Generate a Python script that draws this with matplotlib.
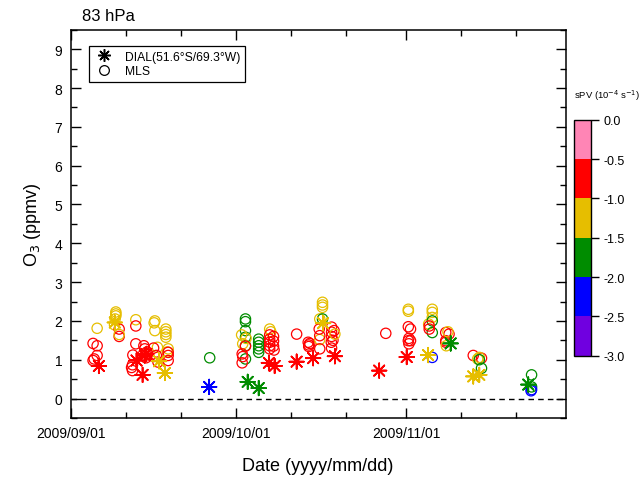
import numpy as np
import matplotlib
matplotlib.use('Agg')
import matplotlib.pyplot as plt
import matplotlib.dates as mdates
from matplotlib.colors import ListedColormap, BoundaryNorm
from matplotlib.cm import ScalarMappable
from matplotlib.lines import Line2D

plt.rcParams['font.family'] = ['Liberation Sans', 'DejaVu Sans']

start = np.datetime64('2009-09-01T00:00')
# days since 2009/09/01, O3 (ppmv), sPV (1e-4 s-1)
dial_days = [5.15, 8.05, 12.0, 13.1, 13.5, 13.8, 16.1, 17.15, 25.2, 32.2, 34.2,
             36.05, 37.1, 41.1, 44.1, 45.9, 48.05, 56.1, 61.1, 65.0, 69.1,
             73.2, 74.3, 83.2]
dial_o3 = [0.84, 1.96, 0.98, 0.61, 1.11, 1.15, 0.96, 0.66, 0.30, 0.43, 0.27,
           0.92, 0.84, 0.95, 1.04, 1.94, 1.09, 0.72, 1.07, 1.12, 1.42,
           0.57, 0.61, 0.36]
dial_spv = [-0.75, -1.25, -0.75, -0.75, -0.75, -0.75, -1.25, -1.25, -2.25, -1.75, -1.75,
            -0.75, -0.75, -0.75, -0.75, -1.25, -0.75, -0.75, -0.75, -1.25, -1.75,
            -1.25, -1.25, -1.75]

mls_days = [4.1, 4.84, 4.3, 4.1, 4.84, 4.84,
            8.24, 8.24, 8.24, 8.1, 8.0, 8.84, 8.84, 8.84,
            11.87, 11.87, 11.87, 11.33, 11.27, 11.27, 11.1,
            13.33, 13.5, 13.1, 14.0, 13.7, 13.9,
            15.33, 15.2, 15.33, 15.8, 15.1, 15.6, 15.9,
            17.33, 17.33, 17.33, 17.33, 17.75, 17.6, 17.75, 17.75, 17.75,
            25.3,
            31.8, 31.8, 31.8, 31.8, 31.8, 31.8, 31.1, 31.9, 31.3, 31.8, 31.2, 31.2, 31.3,
            34.2, 34.2, 34.2, 34.2, 34.2,
            36.2, 36.4, 36.2, 36.2, 36.2, 36.2, 36.2, 36.9, 36.9, 36.9, 37.0,
            41.1,
            43.2, 43.3, 43.3, 43.5,
            45.8, 45.8, 45.8, 45.3, 45.3, 45.8, 45.2, 45.3, 45.3,
            47.45, 47.45, 47.45, 47.4, 47.45, 47.9, 47.7, 48.05,
            57.3,
            61.4, 61.4, 61.4, 61.8, 61.5, 61.8, 61.4, 61.5,
            65.75, 65.75, 65.75, 65.1, 65.75, 65.75, 65.2, 65.2, 65.75,
            68.2, 68.8, 68.2, 68.2, 68.6, 68.3,
            73.2, 74.7, 74.3, 74.0, 74.3, 74.7,
            83.8, 83.8, 83.8, 83.7]
mls_o3 = [1.42, 1.36, 1.02, 0.98, 1.11, 1.81,
          2.23, 2.18, 2.13, 2.05, 1.90, 1.79, 1.60, 1.65,
          2.03, 1.87, 1.41, 1.12, 0.87, 0.72, 0.80,
          1.36, 1.28, 1.11, 1.15, 1.05, 1.20,
          2.00, 1.95, 1.75, 1.32, 1.30, 1.11, 0.94,
          1.79, 1.72, 1.65, 1.58, 1.28, 1.20, 1.19, 1.11, 0.98,
          1.05,
          2.05, 1.98, 1.75, 1.58, 1.36, 1.02, 1.64, 1.55, 1.41, 1.35, 1.15, 0.92, 1.08,
          1.53, 1.45, 1.36, 1.28, 1.19,
          1.79, 1.72, 1.64, 1.53, 1.45, 1.36, 1.28, 1.60, 1.48, 1.35, 1.25,
          1.66,
          1.45, 1.38, 1.34, 1.42,
          2.48, 2.41, 2.35, 2.05, 1.52, 2.05, 1.79, 1.62, 1.28,
          1.84, 1.71, 1.60, 1.45, 1.30, 1.75, 1.50, 1.66,
          1.68,
          2.30, 2.25, 1.85, 1.79, 1.55, 1.49, 1.49, 1.41,
          2.30, 2.22, 2.09, 1.92, 2.00, 1.70, 1.87, 1.79, 1.06,
          1.70, 1.66, 1.49, 1.45, 1.72, 1.36,
          1.11, 1.04, 1.06, 1.02, 1.00, 0.78,
          0.61, 0.30, 0.23, 0.20]
mls_spv = [-0.75, -0.75, -0.75, -0.75, -0.75, -1.25,
           -1.25, -1.25, -1.25, -1.25, -1.25, -0.75, -0.75, -1.25,
           -1.25, -0.75, -0.75, -0.75, -0.75, -0.75, -0.75,
           -0.75, -0.75, -0.75, -0.75, -0.75, -0.75,
           -1.25, -1.25, -1.25, -1.25, -0.75, -0.75, -0.75,
           -1.25, -1.25, -1.25, -1.25, -1.25, -1.25, -0.75, -0.75, -0.75,
           -1.75,
           -1.75, -1.75, -1.75, -1.75, -1.75, -1.75, -1.25, -1.25, -1.25, -0.75, -0.75, -0.75, -0.75,
           -1.75, -1.75, -1.75, -1.75, -1.75,
           -1.25, -1.25, -0.75, -0.75, -0.75, -0.75, -0.75, -0.75, -0.75, -0.75, -0.75,
           -0.75,
           -0.75, -0.75, -0.75, -0.75,
           -1.25, -1.25, -1.25, -1.25, -1.25, -1.75, -0.75, -0.75, -0.75,
           -0.75, -0.75, -0.75, -0.75, -0.75, -0.75, -0.75, -1.25,
           -0.75,
           -1.25, -1.25, -0.75, -0.75, -0.75, -0.75, -0.75, -0.75,
           -1.25, -1.25, -1.25, -1.25, -1.75, -1.75, -0.75, -0.75, -2.25,
           -0.75, -0.75, -0.75, -0.75, -1.25, -1.25,
           -0.75, -0.75, -1.25, -1.25, -1.75, -1.75,
           -1.75, -1.75, -2.25, -2.25]

spv_bounds = [-3.0, -2.5, -2.0, -1.5, -1.0, -0.5, 0.0]
spv_colors = ['#7000e0', '#0000ff', '#008c00', '#e6be00', '#ff0000', '#ff85b5']


def to_dates(days):
    return start + (np.array(days) * 86400).astype('timedelta64[s]')


cmap = ListedColormap(spv_colors)
norm = BoundaryNorm(spv_bounds, cmap.N)

fig = plt.figure(figsize=(6.41, 4.81), dpi=100)
ax = fig.add_axes([0.110, 0.129, 0.7725, 0.807])

ax.axhline(0, color='k', lw=1.0, ls=(0, (4, 3)), zorder=1)

ax.scatter(to_dates(mls_days), mls_o3, s=55, marker='o',
           facecolors='none', edgecolors=cmap(norm(mls_spv)), linewidths=0.9, zorder=2)
ax.scatter(to_dates(dial_days), dial_o3, s=110, marker=(8, 2, 0),
           c=cmap(norm(dial_spv)), linewidths=1.25, zorder=3)

ax.set_xlim(np.datetime64('2009-09-01'), np.datetime64('2009-11-30'))
ax.set_ylim(-0.5, 9.5)
ax.xaxis.set_major_locator(mdates.MonthLocator())
ax.xaxis.set_minor_locator(mdates.DayLocator(bymonthday=[11, 21]))
ax.xaxis.set_major_formatter(mdates.DateFormatter('%Y/%m/%d'))
ax.set_yticks(range(0, 10))
ax.set_yticks(np.arange(-0.5, 9.6, 0.5), minor=True)
ax.tick_params(which='both', direction='in', top=True, right=True, width=1.0,
               labelsize=10, pad=6)
ax.tick_params(which='major', length=7)
ax.tick_params(which='minor', length=4)
for s in ax.spines.values():
    s.set_linewidth(1.1)

ax.set_xlabel('Date (yyyy/mm/dd)', fontsize=13, labelpad=12)
ax.set_ylabel('O$_3$ (ppmv)', fontsize=13, labelpad=8)
ax.text(0.023, 1.018, '83 hPa', transform=ax.transAxes, fontsize=12, va='bottom', ha='left')

handles = [Line2D([], [], ls='none', marker=(8, 2, 0), color='k', markersize=9, markeredgewidth=1.1),
           Line2D([], [], ls='none', marker='o', mfc='none', mec='k', markersize=7, markeredgewidth=0.9)]
leg = ax.legend(handles, ['DIAL(51.6\u00b0S/69.3\u00b0W)', 'MLS'], loc='upper left',
                bbox_to_anchor=(0.037, 0.959), borderaxespad=0, fontsize=8.7,
                fancybox=False, edgecolor='k', framealpha=1, handletextpad=0.9,
                labelspacing=0.2, borderpad=0.4, handlelength=1.7)
leg.get_frame().set_linewidth(0.9)

cax = fig.add_axes([0.896, 0.2584, 0.0265, 0.4906])
cb = fig.colorbar(ScalarMappable(norm=norm, cmap=cmap), cax=cax, ticks=spv_bounds)
cb.ax.set_yticklabels(['%.1f' % v for v in spv_bounds])
cb.ax.tick_params(labelsize=9, length=6, width=1.0, pad=3)
cb.outline.set_linewidth(1.0)
fig.text(0.896, 0.802, 'sPV (10$^{-4}$ s$^{-1}$)', fontsize=6.8, ha='left', va='center')

fig.savefig('out.png', dpi=100)
